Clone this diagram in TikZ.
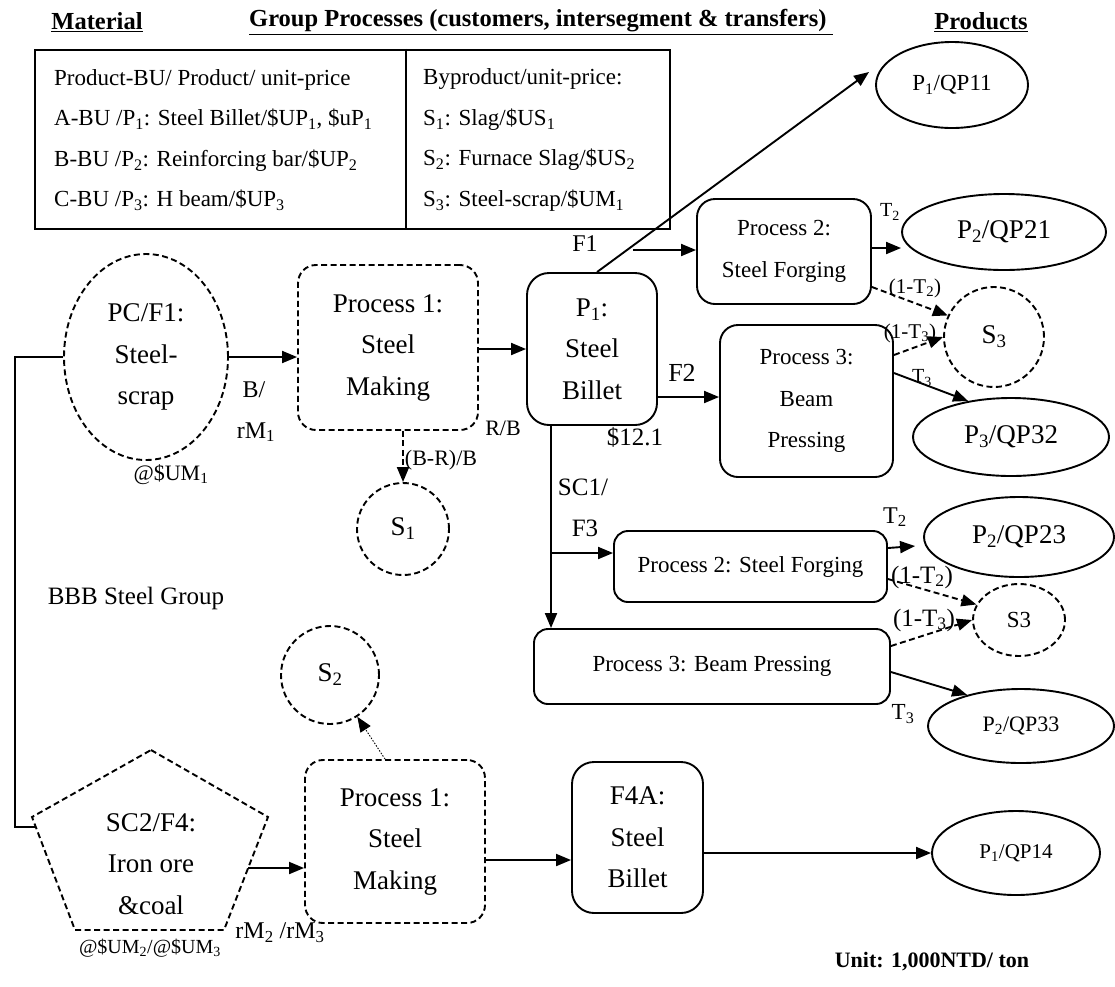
\documentclass[tikz,border=0pt]{standalone}
\usepackage{fontspec}
\setmainfont{Liberation Serif}
\usetikzlibrary{arrows.meta,shapes.geometric,calc}
\begin{document}
\begin{tikzpicture}[x=1pt,y=-1pt,
  ln/.style={line width=1.9pt},
  arr/.style={line width=1.9pt,-{Triangle[length=15pt,width=12pt]}},
  darr/.style={arr,dash pattern=on 6pt off 3.5pt},
  dotarr/.style={line width=0.9pt,dash pattern=on 1.5pt off 1.5pt,-{Triangle[length=15pt,width=12pt]}},
  rbox/.style={draw,line width=1.9pt,rounded corners=18pt,align=center,inner sep=0pt},
  dbox/.style={rbox,dash pattern=on 6pt off 3.5pt},
  ell/.style={draw,ellipse,line width=1.9pt,inner sep=0pt,align=center},
  dcirc/.style={draw,circle,line width=1.9pt,dash pattern=on 6pt off 3.5pt,inner sep=0pt},
  big/.style={font=\fontsize{27}{41.5}\selectfont,align=center},
  med/.style={font=\fontsize{23}{42}\selectfont,align=center},
  lab/.style={font=\fontsize{#1}{#1}\selectfont,inner sep=0pt},
  hdr/.style={font=\fontsize{24.5}{24.5}\selectfont\bfseries,inner sep=0pt},
  coltext/.style={anchor=west,align=left,font=\fontsize{23}{40.5}\selectfont,inner sep=0pt}
]
\useasboundingbox (0,0) rectangle (1115,986);

% headers
\node[hdr] (hm) at (97,22) {\underline{Material}};
\node[hdr,anchor=west] (hg) at (249,22) {\underline{Group Processes (customers, intersegment \& transfers)\ }};
\node[hdr] (hp) at (981,22) {\underline{Products}};

% table
\node[draw,line width=2.2pt,minimum width=635pt,minimum height=179pt,inner sep=0pt] (tab) at (352.5,139.5) {};
\coordinate (dv) at (406,0);
\draw[line width=2.2pt] (tab.north -| dv) -- (tab.south -| dv);
\node[coltext] (tl) at (54,140) {Product-BU/ Product/ unit-price\\
A-BU /P\textsubscript{1}: Steel Billet/\$UP\textsubscript{1}, \$uP\textsubscript{1}\\
B-BU /P\textsubscript{2}: Reinforcing bar/\$UP\textsubscript{2}\\
C-BU /P\textsubscript{3}: H beam/\$UP\textsubscript{3}};
\node[coltext] (tr) at (423,140) {Byproduct/unit-price:\\
S\textsubscript{1}: Slag/\$US\textsubscript{1}\\
S\textsubscript{2}: Furnace Slag/\$US\textsubscript{2}\\
S\textsubscript{3}: Steel-scrap/\$UM\textsubscript{1}};

% main nodes
\node[ell,dash pattern=on 6pt off 3.5pt,minimum width=164pt,minimum height=206pt,big] (pc) at (146,357) {PC/F1:\\Steel-\\scrap};
\node[dbox,minimum width=180pt,minimum height=165pt,big] (pm1) at (388,347.5) {Process 1:\\Steel\\Making};
\node[rbox,rounded corners=22pt,minimum width=130pt,minimum height=152pt,big] (p1) at (592,349) {P\textsubscript{1}:\\Steel\\Billet};
\node[rbox,minimum width=174pt,minimum height=105pt,med] (pf2) at (784,251.5) {Process 2:\\Steel Forging};
\node[rbox,minimum width=173pt,minimum height=152pt,font=\fontsize{23}{41.5}\selectfont] (pb3) at (806.5,401) {Process 3:\\Beam\\Pressing};
\node[ell,minimum width=152pt,minimum height=86pt,lab=23] (qp11) at (952,85) {P\textsubscript{1}/QP11};
\node[ell,minimum width=204pt,minimum height=76pt,lab=27] (qp21) at (1004,232) {P\textsubscript{2}/QP21};
\node[dcirc,minimum size=100pt,lab=27] (s3a) at (994,337) {S\textsubscript{3}};
\node[ell,minimum width=196pt,minimum height=78pt,lab=27] (qp32) at (1011,437) {P\textsubscript{3}/QP32};
\node[dcirc,minimum size=92pt,lab=27] (s1) at (403,529) {S\textsubscript{1}};
\node[rbox,rounded corners=14pt,minimum width=273pt,minimum height=71pt,lab=23] (pf2b) at (750.5,566.5) {Process 2: Steel Forging};
\node[rbox,rounded corners=14pt,minimum width=356pt,minimum height=75pt,lab=23] (pb3b) at (712,666.5) {Process 3: Beam Pressing};
\node[ell,minimum width=190pt,minimum height=80pt,lab=27] (qp23) at (1019,537) {P\textsubscript{2}/QP23};
\node[ell,dash pattern=on 6pt off 3.5pt,minimum width=92pt,minimum height=72pt,lab=23] (s3b) at (1019,620) {S3};
\node[ell,minimum width=186pt,minimum height=74pt,lab=22] (qp33) at (1021,726) {P\textsubscript{2}/QP33};
\node[dcirc,minimum size=98pt,lab=27] (s2) at (330,675) {S\textsubscript{2}};
\node[dbox,minimum width=180pt,minimum height=163pt,big] (pm1b) at (395,841.5) {Process 1:\\Steel\\Making};
\node[rbox,rounded corners=22pt,minimum width=131pt,minimum height=151pt,big] (f4a) at (637.5,837.5) {F4A:\\Steel\\Billet};
\node[ell,minimum width=168pt,minimum height=84pt,lab=21] (qp14) at (1016,853) {P\textsubscript{1}/QP14};

% pentagon
\coordinate (pT) at (151,750);
\coordinate (pUL) at (32,817);
\coordinate (pBL) at (75,930);
\coordinate (pBR) at (224,930);
\coordinate (pUR) at (268,817);
\draw[line width=1.9pt,dash pattern=on 6pt off 3.5pt] (pT) -- (pUR) -- (pBR) -- (pBL) -- (pUL) -- cycle;
\node[big] (sc2) at (151,864) {SC2/F4:\\Iron ore\\\&coal};
\coordinate (pentL) at (36,827);
\coordinate (pentR) at (248,868);

% labels
\node[lab=24] (lF1) at (585,244) {F1};
\node[lab=26] (lF2) at (682,373) {F2};
\node[lab=25] (l121) at (635,437) {\$12.1};
\node[lab=22] (lRB) at (503,428) {R/B};
\node[lab=24] (lB) at (254,390) {B/};
\node[lab=24] (lrM1) at (256,432) {rM\textsubscript{1}};
\node[lab=22] (lBR) at (441,460) {(B-R)/B};
\node[lab=22] (lum1) at (171,475) {@\$UM\textsubscript{1}};
\node[lab=25] (lsc1) at (583,487) {SC1/};
\node[lab=25] (lf3) at (585,528) {F3};
\node[lab=20] (lt2a) at (890,212) {T\textsubscript{2}};
\node[lab=21] (l1t2a) at (915,288) {(1-T\textsubscript{2})};
\node[lab=21] (l1t3a) at (910,333) {(1-T\textsubscript{3})};
\node[lab=20] (lt3a) at (922,378) {T\textsubscript{3}};
\node[lab=24] (lt2b) at (895,517) {T\textsubscript{2}};
\node[lab=25] (l1t2b) at (922,577) {(1-T\textsubscript{2})};
\node[lab=25] (l1t3b) at (924,620) {(1-T\textsubscript{3})};
\node[lab=23] (lt3b) at (903,714) {T\textsubscript{3}};
\node[lab=25] (lbbb) at (136,598) {BBB Steel Group};
\node[lab=20] (lum23) at (150,948) {@\$UM\textsubscript{2}/@\$UM\textsubscript{3}};
\node[lab=24] (lrm23) at (280,933) {rM\textsubscript{2} /rM\textsubscript{3}};
\node[font=\fontsize{22}{22}\selectfont\bfseries,inner sep=0pt] (unit) at (932,962) {Unit: 1,000NTD/ ton};

% connectors
\draw[arr] (pc.east) -- (pc.east -| pm1.west);
\draw[arr] (p1.west -| pm1.east) -- (p1.west);
\draw[darr] (s1.north |- pm1.south) -- (s1.north);
\coordinate (lc) at (15,357);
\draw[ln] (pc.west) -- (lc) |- (pentL);
\draw[arr] (pentR) -- (pentR -| pm1b.west);
\coordinate (m1o) at ([yshift=-18.5pt]pm1b.east);
\draw[arr] (m1o) -- (m1o -| f4a.west);
\draw[dotarr] ([xshift=-10pt]pm1b.north) -- (s2);
\draw[arr] (f4a.east |- qp14) -- (qp14.west);
\coordinate (f2s) at ([yshift=-48pt]p1.east);
\draw[arr] (f2s) -- (f2s -| pb3.west);
\coordinate (f1s) at (633,250);
\draw[arr] (f1s) -- (f1s -| pf2.west);
\coordinate (tip11) at (869,72);
\draw[arr] ([xshift=5pt]p1.north) -- (tip11);
\coordinate (o21) at ([yshift=3.5pt]pf2.east);
\draw[arr] (o21) -- (o21 -| qp21.west);
\draw[darr] ([yshift=-35.5pt]pf2.east) -- (s3a.155);
\draw[darr] ([yshift=46pt]pb3.east) -- (s3a.west);
\draw[arr] ([yshift=28pt]pb3.east) -- (qp32.140);
\coordinate (vs) at ([xshift=-41pt]p1.south);
\draw[arr] (vs) -- (vs |- pb3b.north);
\coordinate (br) at (551,553);
\draw[arr] (br) -- (br -| pf2b.west);
\draw[arr] ([yshift=18.5pt]pf2b.east) -- ([xshift=-8pt,yshift=-9pt]qp23.west);
\draw[darr] ([yshift=-12.5pt]pf2b.east) -- (s3b.160);
\draw[darr] ([yshift=20.5pt]pb3b.east) -- (s3b.west);
\draw[arr] ([yshift=-5.5pt]pb3b.east) -- (qp33.150);
\end{tikzpicture}
\end{document}
